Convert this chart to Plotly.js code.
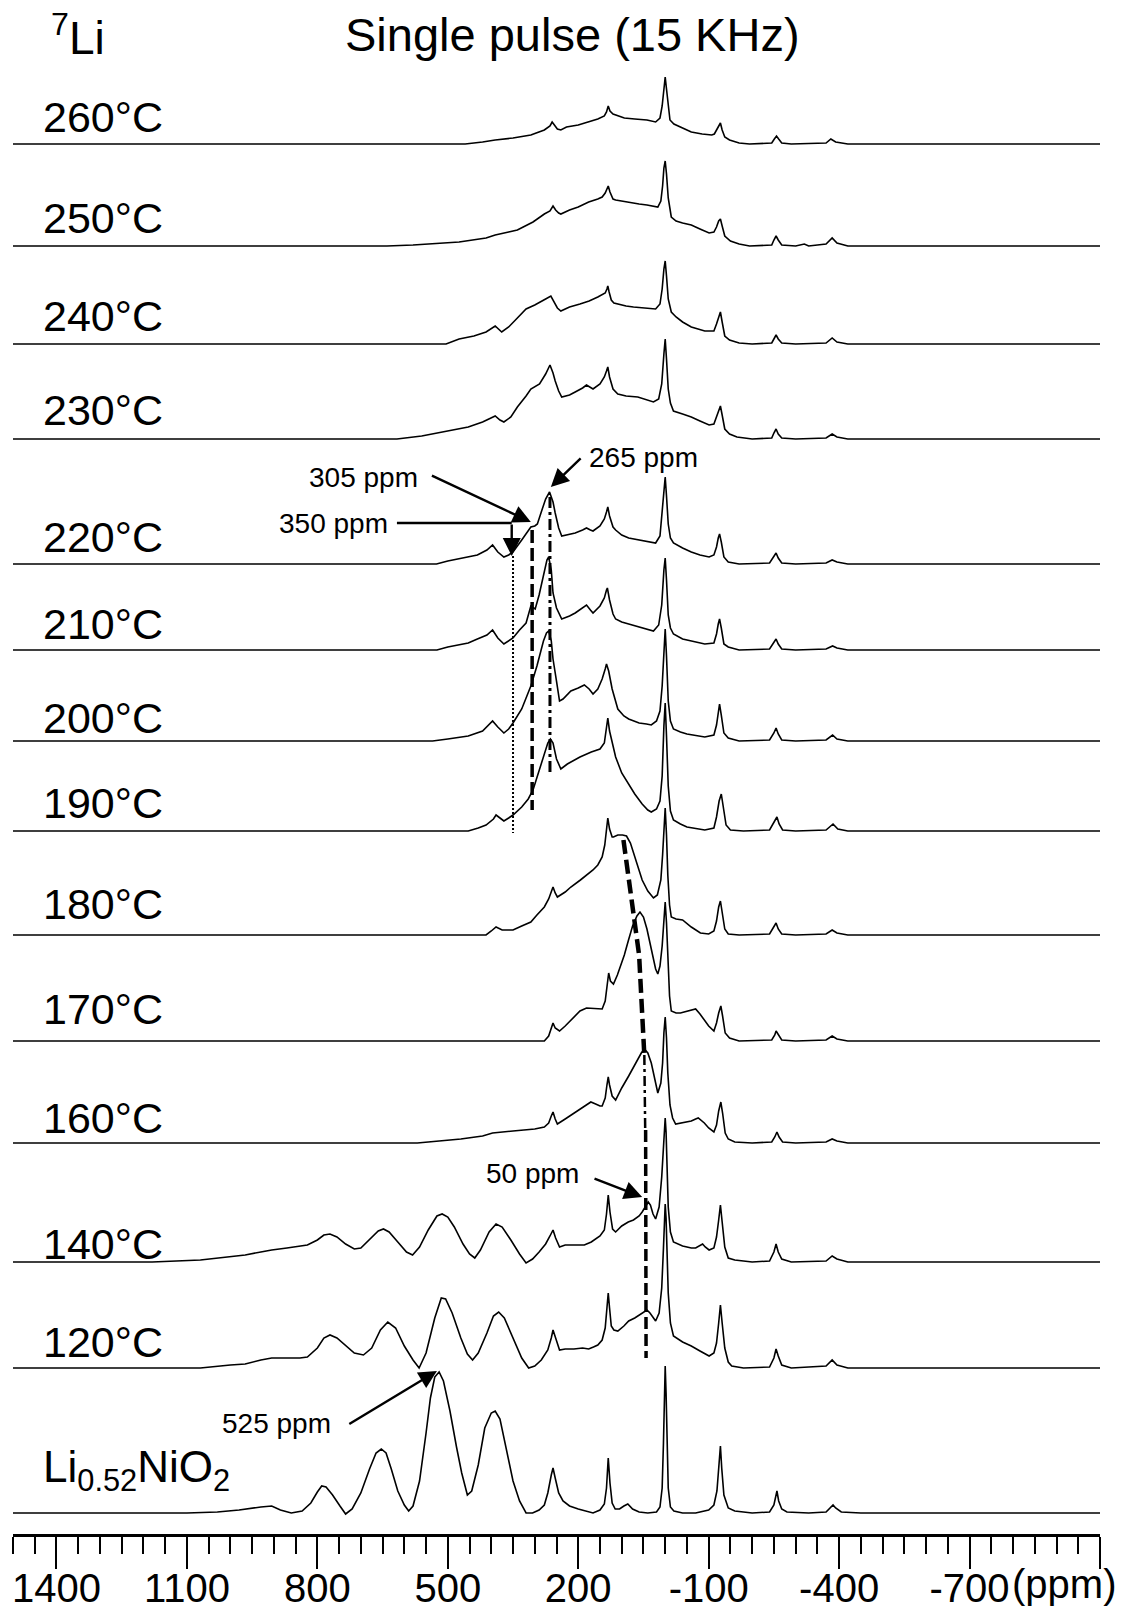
<!DOCTYPE html>
<html>
<head>
<meta charset="utf-8">
<script src="https://cdn.plot.ly/plotly-3.0.1.min.js"></script>
<style>
  html, body { margin: 0; padding: 0; background: #fff; }
  #chart { width: 1129px; height: 1615px; }
</style>
</head>
<body>
<div id="chart"></div>
<script>
// ---------------- DATA (ppm, intensity above each trace's baseline) ----------------
const t260_ppm = [1500,460,420,391,350,309,278,265,260,256,248,240,227,200,176,155,140,135,131,127,120,114,94,70,42,22,12,7,3,0,-3,-7,-11,-20,-35,-60,-85,-107,-113,-119,-124,-127,-131,-137,-148,-170,-194,-245,-251,-256,-261,-268,-290,-370,-381,-392,-420,-1000];
const t260_int = [0,0,2,4,6,9,14,18,22,20,15,14,17,19,22,25,28,32,38,33,30,29,26,25,24,22,26,38,58,67,55,36,24,20,17,12,10,9,10,15,20,21,14,7,4,1,0,1,5,8,5,1,0,1,5,2,0,0];

const t250_ppm = [1500,640,580,520,474,412,391,360,340,304,278,265,258,252,245,240,220,200,176,155,145,138,134,131,127,120,114,90,60,42,17,10,6,3,0,-3,-7,-14,-25,-40,-60,-80,-101,-112,-118,-123,-127,-131,-137,-150,-170,-194,-245,-250,-255,-260,-268,-300,-320,-330,-370,-384,-395,-420,-1000];
const t250_int = [0,0,1,3,4,8,11,14,16,24,32,35,40,36,33,32,36,39,44,47,49,53,58,60,54,47,46,44,42,41,39,45,60,78,85,72,48,29,25,23,21,17,13,14,19,25,27,20,10,5,2,0,1,6,10,6,1,0,2,0,2,8,3,0,0];

const t240_ppm = [1500,504,474,440,412,391,376,360,340,320,300,289,275,263,255,248,240,220,196,175,155,145,138,134,132,129,124,118,109,90,73,50,22,12,7,3,0,-3,-7,-14,-25,-40,-60,-91,-112,-118,-123,-127,-131,-137,-148,-170,-200,-245,-250,-255,-260,-268,-300,-370,-384,-395,-420,-1000];
const t240_int = [0,0,5,8,12,18,12,17,26,35,39,42,45,48,42,36,33,37,40,43,47,49,51,55,58,52,44,41,40,38,37,36,35,40,55,75,83,68,45,32,27,22,17,13,13,20,28,32,22,8,4,1,0,1,5,9,5,1,0,1,6,2,0,0];

const t230_ppm = [1500,617,560,515,453,420,391,380,371,355,340,320,309,289,275,265,258,253,245,238,220,207,190,181,172,166,150,140,135,132,128,120,109,90,63,40,27,15,8,3,0,-3,-7,-12,-19,-40,-60,-80,-101,-112,-118,-123,-127,-131,-137,-148,-165,-200,-245,-250,-255,-260,-268,-300,-370,-384,-395,-420,-1000];
const t230_int = [0,0,3,7,12,17,23,19,17,22,32,43,50,55,65,74,66,58,48,42,44,47,51,54,52,50,55,62,68,72,62,50,45,43,42,39,37,40,55,85,100,80,50,36,28,25,22,18,14,15,22,29,33,24,10,5,2,0,1,6,10,5,1,0,1,5,2,0,0];

const t220_ppm = [1500,526,500,453,432,410,397,385,371,360,350,330,315,309,300,294,285,275,266,258,253,245,238,220,207,190,181,172,166,150,140,135,132,128,120,114,100,84,60,43,22,12,7,3,0,-3,-7,-12,-19,-40,-60,-80,-101,-112,-118,-122,-125,-129,-135,-145,-170,-240,-250,-255,-260,-268,-300,-370,-384,-395,-420,-1000];
const t220_int = [0,0,3,7,9,14,19,12,7,9,12,24,33,37,38,40,52,65,72,62,51,36,28,30,31,34,36,34,33,38,45,52,57,48,37,34,29,26,24,22,21,28,50,75,87,68,40,26,21,16,12,9,7,9,17,26,30,22,7,2,0,1,7,11,6,1,0,1,4,2,0,0];

const t210_ppm = [1500,525,500,453,432,410,397,385,371,360,350,335,320,309,299,290,280,272,268,262,258,250,238,220,207,190,181,172,166,150,140,135,133,128,120,114,100,84,60,43,27,15,8,3,0,-3,-7,-12,-19,-40,-70,-91,-112,-118,-122,-125,-129,-135,-145,-170,-240,-250,-255,-260,-268,-300,-370,-385,-395,-420,-1000];
const t210_int = [0,0,3,7,11,15,20,12,6,9,12,20,27,44,41,55,75,90,93,80,57,42,31,34,37,42,45,40,37,44,52,60,62,50,36,31,28,26,23,21,19,25,45,80,92,70,35,22,16,11,8,6,7,16,26,31,22,6,3,0,1,7,11,6,1,0,1,4,2,0,0];

const t200_ppm = [1500,535,500,453,420,405,397,385,371,360,350,330,309,295,289,280,273,268,262,258,250,243,235,217,200,186,175,166,155,145,138,135,130,122,109,95,84,60,43,32,20,12,7,3,0,-3,-7,-12,-19,-35,-50,-91,-112,-118,-122,-125,-129,-135,-145,-170,-240,-250,-255,-260,-268,-300,-370,-385,-395,-420,-1000];
const t200_int = [0,0,2,5,10,16,20,14,8,12,18,32,55,75,85,100,108,110,100,82,60,40,42,50,53,56,52,47,52,62,72,77,70,52,32,25,22,18,17,16,20,30,55,95,112,85,40,20,12,9,7,4,6,16,30,37,26,8,3,0,1,8,13,7,1,0,1,6,2,0,0];

const t190_ppm = [1500,453,430,412,395,389,380,371,360,350,330,315,304,290,278,270,264,258,250,243,240,225,210,196,170,150,140,136,132,128,122,114,100,84,70,53,40,32,20,12,7,3,0,-3,-7,-12,-19,-35,-50,-91,-112,-118,-124,-129,-133,-140,-150,-180,-240,-250,-257,-262,-270,-300,-370,-386,-397,-420,-1000];
const t190_int = [0,0,3,6,12,16,13,10,13,16,24,32,41,60,78,88,92,88,72,64,62,67,71,74,79,82,88,100,113,100,88,74,58,47,37,27,21,19,22,30,55,105,128,95,45,20,11,7,4,1,3,14,30,37,25,6,1,0,1,9,14,7,1,0,1,7,2,0,0];

const t180_ppm = [1500,412,400,389,375,350,330,309,295,278,268,262,258,253,248,230,217,195,180,166,155,145,139,135,132,128,122,119,109,98,89,80,73,63,53,40,27,18,10,6,3,0,-3,-6,-10,-14,-25,-40,-60,-81,-100,-112,-118,-123,-127,-131,-137,-145,-170,-240,-250,-255,-260,-268,-300,-370,-384,-395,-420,-1000];
const t180_int = [0,0,4,8,5,5,9,13,20,28,36,44,48,42,38,43,48,55,60,65,70,78,90,105,117,106,98,98,100,100,99,92,82,68,55,44,37,40,55,80,112,127,100,60,30,18,16,15,8,2,1,4,14,28,34,22,6,1,0,1,8,12,6,1,0,1,5,2,0,0];

const t170_ppm = [1500,278,268,262,258,253,243,230,215,196,181,160,145,138,134,130,126,119,110,100,94,85,75,65,58,50,42,35,28,22,17,12,7,3,0,-3,-6,-10,-14,-25,-35,-50,-60,-70,-80,-91,-100,-112,-118,-123,-128,-132,-138,-148,-170,-245,-252,-255,-260,-268,-300,-370,-384,-395,-420,-1000];
const t170_int = [0,0,5,12,18,13,10,15,22,30,33,32,32,40,55,68,60,57,66,78,86,100,115,125,129,124,112,98,82,72,67,75,95,125,139,118,80,45,30,28,28,30,31,32,27,20,15,10,18,28,35,25,8,3,0,1,6,10,6,1,0,1,5,2,0,0];

const t160_ppm = [1500,570,520,470,420,397,350,300,278,268,262,258,253,248,230,210,196,180,171,160,150,145,138,134,131,128,122,114,100,84,75,63,55,48,40,32,25,17,10,6,3,0,-3,-6,-11,-17,-24,-40,-60,-70,-76,-90,-100,-112,-118,-123,-128,-132,-138,-145,-160,-200,-245,-252,-257,-262,-270,-300,-370,-384,-395,-420,-1000];
const t160_int = [0,0,2,4,7,10,12,14,16,20,27,31,24,19,24,30,34,39,41,39,37,37,45,58,66,58,47,43,55,67,74,84,90,94,90,80,65,50,60,80,110,126,105,70,38,25,19,20,22,24,25,20,15,11,18,32,41,30,10,4,1,0,1,6,11,6,1,0,1,4,2,0,0];

const t140_ppm = [1500,1180,1069,1000,966,930,905,870,840,823,800,785,771,755,735,715,700,680,660,648,635,615,595,581,565,545,525,513,500,485,465,450,438,425,405,389,375,355,335,320,305,290,275,265,258,252,243,230,210,186,170,160,150,140,135,131,127,121,114,100,85,73,60,53,45,39,34,28,22,14,8,4,2,0,-2,-4,-7,-12,-19,-40,-60,-70,-80,-86,-92,-101,-112,-118,-123,-127,-131,-137,-145,-160,-200,-240,-250,-255,-260,-268,-290,-370,-384,-395,-420,-1000];
const t140_int = [0,0,2,5,7,10,12,14,16,17,22,27,28,25,18,13,14,22,31,33,30,20,10,7,15,32,46,48,45,35,18,8,4,12,30,38,35,22,8,-1,3,10,18,26,32,24,15,17,17,17,20,23,26,32,48,67,50,33,30,36,40,42,46,50,55,60,57,48,43,55,85,120,135,144,130,95,55,30,20,16,14,14,17,18,15,12,14,25,42,57,40,15,4,2,0,1,10,18,10,3,0,1,6,3,0,0];

const t120_ppm = [1500,1150,1069,1000,966,930,905,870,840,823,800,785,771,755,735,715,694,675,655,638,620,600,580,566,550,530,515,505,490,470,455,443,430,410,395,383,370,350,330,314,300,285,270,262,258,252,243,230,210,190,176,165,155,145,138,134,131,128,124,118,109,95,84,70,60,53,47,42,35,28,22,14,8,4,2,0,-2,-4,-7,-12,-19,-40,-60,-80,-101,-112,-118,-123,-127,-131,-137,-145,-153,-180,-240,-250,-255,-260,-268,-290,-370,-384,-395,-420,-1000];
const t120_int = [0,0,0,3,4,8,10,10,10,11,20,30,33,30,22,15,13,20,38,46,40,22,8,0,15,50,70,69,55,30,14,8,15,35,52,56,50,30,10,0,2,8,18,30,38,30,18,19,19,20,19,21,23,28,40,60,75,60,42,38,37,42,47,50,53,55,57,58,55,50,47,55,80,120,150,164,150,115,75,45,32,26,22,17,12,15,25,45,63,45,20,6,2,0,1,10,19,12,3,0,2,8,3,0,0];

const li052_ppm = [1500,1100,1030,980,930,905,885,860,835,815,800,790,780,765,748,735,720,700,680,665,653,642,630,615,600,590,580,565,550,540,530,520,510,495,480,468,455,445,430,415,400,391,380,365,350,335,320,305,290,278,270,262,258,253,245,235,220,200,185,166,150,140,135,131,127,122,115,105,95,86,75,60,40,20,12,7,4,2,0,-2,-4,-7,-12,-20,-40,-70,-100,-112,-119,-124,-127,-130,-135,-145,-160,-200,-240,-250,-254,-257,-261,-268,-280,-330,-370,-380,-386,-392,-405,-450,-1000];
const li052_int = [0,0,1,3,6,7,3,0,2,10,21,27,26,18,7,-1,4,20,44,60,64,60,44,22,8,2,7,32,80,115,136,141,132,102,66,40,18,22,48,85,100,102,94,64,32,12,0,0,3,8,20,38,45,35,20,12,7,4,2,0,3,9,25,55,30,10,4,4,7,9,4,1,0,1,6,25,70,120,147,120,70,25,6,2,0,0,3,8,22,50,67,45,18,5,2,0,1,8,18,22,12,4,1,0,1,5,8,5,1,0,0];

const seriesLabels = ['260°C','250°C','240°C','230°C','220°C','210°C','200°C','190°C','180°C','170°C','160°C','140°C','120°C','Li<sub>0.52</sub>NiO<sub>2</sub>'];
const seriesPpm = [t260_ppm,t250_ppm,t240_ppm,t230_ppm,t220_ppm,t210_ppm,t200_ppm,t190_ppm,t180_ppm,t170_ppm,t160_ppm,t140_ppm,t120_ppm,li052_ppm];
const seriesInt = [t260_int,t250_int,t240_int,t230_int,t220_int,t210_int,t200_int,t190_int,t180_int,t170_int,t160_int,t140_int,t120_int,li052_int];

const tickVals = [1400,1100,800,500,200,-100,-400,-700,-1000];
const tickText = ['1400','1100','800','500','200','-100','-400','-700',''];

// ---------------- LAYOUT (page-pixel placement) ----------------
const W = 1129, H = 1615;
const PL = 13, PR = 1100, PT = 0, PB = 1534;       // plot area in page pixels
const baselines = [144,246,344,439,564,650,741,831,935,1041,1143,1262,1368,1513];
const labelY    = [117,218,316,410,537,624,718,803,904,1009,1118,1244,1342,1470];
const FONT = 'Liberation Sans, Arial, Helvetica, sans-serif';
const px = v => (v - PL) / (PR - PL);
const py = v => 1 - (v - PT) / (PB - PT);

const traces = seriesPpm.map((xs, i) => ({
  type: 'scatter', mode: 'lines',
  x: xs,
  y: seriesInt[i].map(v => baselines[i] - v),
  line: { color: '#000', width: 1.6 },
  hoverinfo: 'skip', showlegend: false
}));

const txt = (s, size) => ({ text: s, showarrow: false, font: { family: FONT, size: size, color: '#000' } });

const annotations = [];
seriesLabels.forEach((s, i) => {
  annotations.push(Object.assign(txt(s, i === 13 ? 44 : 43), {
    xref: 'paper', yref: 'paper', x: px(41), y: py(labelY[i]), xanchor: 'left', yanchor: 'middle'
  }));
});
annotations.push(Object.assign(txt('<sup>7</sup>Li', 46), { xref:'paper', yref:'paper', x: px(49), y: py(35), xanchor:'left', yanchor:'middle' }));
annotations.push(Object.assign(txt('Single pulse (15 KHz)', 47), { xref:'paper', yref:'paper', x: px(572), y: py(35), xanchor:'center', yanchor:'middle' }));
annotations.push(Object.assign(txt('(ppm)', 40), { xref:'paper', yref:'paper', x: px(1064), y: py(1584), xanchor:'center', yanchor:'middle' }));

// ppm labels
const lab = (s, x, y) => Object.assign(txt(s, 28), { xref:'x', yref:'y', x: x, y: y, xanchor:'center', yanchor:'middle' });
annotations.push(lab('525 ppm', 895, 1423));
annotations.push(lab('50 ppm', 306, 1173));
annotations.push(lab('305 ppm', 694, 477));
annotations.push(lab('350 ppm', 763, 523));
annotations.push(lab('265 ppm', 50, 457));

// arrows
const arrow = (x, y, ax, ay) => ({ xref:'x', yref:'y', axref:'x', ayref:'y', x: x, y: y, ax: ax, ay: ay, text: '', showarrow: true,
  arrowhead: 2, arrowsize: 1.5, arrowwidth: 2.4, arrowcolor: '#000', standoff: 0, startstandoff: 0 });
annotations.push(arrow(525, 1371, 730, 1425));
annotations.push(arrow(53, 1197, 166, 1178));
annotations.push(arrow(309, 522, 540, 475));
annotations.push(arrow(263, 487, 191, 457));
annotations.push(arrow(353, 556, 353, 523));

const shapes = [
  { type:'line', xref:'x', yref:'y', x0:617, x1:353, y0:523, y1:523, line:{ color:'#000', width:2.4 } },
  { type:'line', xref:'x', yref:'y', x0:350, x1:350, y0:556, y1:833, line:{ color:'#000', width:2, dash:'2px,2px' } },
  { type:'line', xref:'x', yref:'y', x0:306, x1:306, y0:530, y1:810, line:{ color:'#000', width:3.5, dash:'13px,5px' } },
  { type:'line', xref:'x', yref:'y', x0:265, x1:265, y0:497, y1:775, line:{ color:'#000', width:3, dash:'11px,4px,3px,4px' } },
  { type:'path', xref:'x', yref:'y', path:'M96,840 L60,955 L48,1055', line:{ color:'#000', width:4.5, dash:'14px,6px' } },
  { type:'line', xref:'x', yref:'y', x0:48, x1:46, y0:1055, y1:1130, line:{ color:'#000', width:2.5, dash:'10px,4px,3px,4px' } },
  { type:'line', xref:'x', yref:'y', x0:45, x1:44, y0:1130, y1:1358, line:{ color:'#000', width:3.5, dash:'12px,5px' } }
];

const layout = {
  width: W, height: H,
  margin: { l: PL, r: W - PR, t: PT, b: H - PB, pad: 0 },
  paper_bgcolor: '#fff', plot_bgcolor: '#fff',
  showlegend: false,
  font: { family: FONT, color: '#000' },
  xaxis: {
    range: [1500, -1000], autorange: false, fixedrange: true,
    tickmode: 'array', tickvals: tickVals, ticktext: tickText,
    ticks: 'outside', ticklen: 32, tickwidth: 2, tickcolor: '#000',
    ticklabelstandoff: -15,
    showline: true, linewidth: 3, linecolor: '#000', mirror: false,
    showgrid: false, zeroline: false,
    tickfont: { family: FONT, size: 40, color: '#000' },
    minor: { tickmode: 'linear', tick0: 0, dtick: 50, ticks: 'outside', ticklen: 17, tickwidth: 2, tickcolor: '#000', showgrid: false }
  },
  yaxis: { range: [PB, PT], autorange: false, fixedrange: true, visible: false, showgrid: false, zeroline: false },
  annotations: annotations,
  shapes: shapes
};

Plotly.newPlot('chart', traces, layout, { staticPlot: true, displayModeBar: false });
</script>
</body>
</html>
